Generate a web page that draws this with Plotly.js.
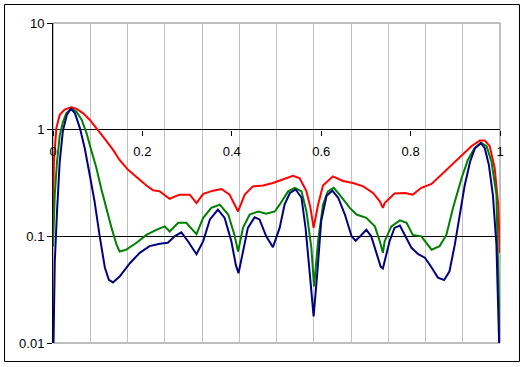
<!DOCTYPE html>
<html>
<head>
<meta charset="utf-8">
<script src="https://cdn.plot.ly/plotly-3.0.1.min.js"></script>
<style>html,body{margin:0;padding:0;background:#fff;}#chart{width:524px;height:367px;}</style>
</head>
<body>
<div id="chart"></div>
<script>
// Red series
var redX = [0, 0.002, 0.0076, 0.015, 0.026, 0.041, 0.052, 0.067, 0.082, 0.097, 0.112, 0.134, 0.149, 0.168, 0.190, 0.209, 0.224, 0.239, 0.261, 0.283, 0.306, 0.321, 0.336, 0.358, 0.377, 0.395, 0.414, 0.429, 0.447, 0.470, 0.492, 0.515, 0.537, 0.552, 0.567, 0.576, 0.583, 0.593, 0.604, 0.626, 0.649, 0.671, 0.694, 0.716, 0.731, 0.738, 0.742, 0.764, 0.787, 0.805, 0.824, 0.847, 0.869, 0.891, 0.914, 0.936, 0.955, 0.966, 0.977, 0.988, 0.996, 1.0];
var redY = [0.16, 0.50, 1.04, 1.38, 1.54, 1.62, 1.57, 1.43, 1.24, 1.04, 0.86, 0.65, 0.52, 0.42, 0.35, 0.30, 0.27, 0.264, 0.225, 0.246, 0.246, 0.205, 0.25, 0.268, 0.278, 0.246, 0.171, 0.246, 0.294, 0.30, 0.316, 0.34, 0.37, 0.35, 0.264, 0.185, 0.12, 0.198, 0.30, 0.365, 0.33, 0.316, 0.294, 0.255, 0.213, 0.185, 0.205, 0.252, 0.255, 0.246, 0.285, 0.31, 0.378, 0.47, 0.58, 0.70, 0.79, 0.79, 0.70, 0.44, 0.198, 0.07];

// Green series
var greenX = [0, 0.004, 0.009, 0.015, 0.022, 0.030, 0.041, 0.052, 0.064, 0.075, 0.086, 0.097, 0.108, 0.119, 0.131, 0.142, 0.149, 0.164, 0.187, 0.209, 0.231, 0.250, 0.261, 0.280, 0.298, 0.321, 0.336, 0.354, 0.373, 0.392, 0.406, 0.414, 0.425, 0.440, 0.459, 0.477, 0.496, 0.507, 0.526, 0.541, 0.556, 0.567, 0.578, 0.584, 0.593, 0.604, 0.615, 0.628, 0.641, 0.664, 0.679, 0.701, 0.720, 0.731, 0.738, 0.742, 0.757, 0.776, 0.791, 0.805, 0.824, 0.847, 0.865, 0.880, 0.895, 0.914, 0.928, 0.943, 0.958, 0.970, 0.981, 0.992, 1.0];
var greenY = [0.08, 0.246, 0.5, 0.88, 1.17, 1.43, 1.57, 1.48, 1.24, 0.93, 0.63, 0.44, 0.28, 0.185, 0.12, 0.084, 0.072, 0.075, 0.087, 0.103, 0.115, 0.124, 0.111, 0.134, 0.134, 0.105, 0.149, 0.185, 0.198, 0.16, 0.103, 0.072, 0.12, 0.16, 0.171, 0.163, 0.171, 0.198, 0.264, 0.285, 0.264, 0.171, 0.078, 0.034, 0.090, 0.198, 0.264, 0.285, 0.246, 0.185, 0.16, 0.149, 0.124, 0.090, 0.07, 0.090, 0.124, 0.141, 0.134, 0.103, 0.10, 0.075, 0.081, 0.103, 0.185, 0.35, 0.52, 0.67, 0.75, 0.70, 0.50, 0.246, 0.009];

// Navy series
var navyX = [0, 0.004, 0.009, 0.015, 0.022, 0.031, 0.040, 0.049, 0.060, 0.071, 0.082, 0.093, 0.104, 0.116, 0.125, 0.134, 0.149, 0.172, 0.194, 0.216, 0.239, 0.257, 0.272, 0.287, 0.302, 0.321, 0.336, 0.351, 0.369, 0.384, 0.399, 0.409, 0.415, 0.425, 0.436, 0.451, 0.462, 0.477, 0.492, 0.507, 0.518, 0.530, 0.543, 0.556, 0.565, 0.574, 0.583, 0.591, 0.600, 0.612, 0.625, 0.638, 0.653, 0.668, 0.677, 0.690, 0.701, 0.712, 0.723, 0.733, 0.738, 0.753, 0.764, 0.776, 0.787, 0.802, 0.817, 0.832, 0.847, 0.861, 0.875, 0.887, 0.899, 0.910, 0.921, 0.933, 0.944, 0.957, 0.966, 0.975, 0.984, 0.992, 0.997, 1.0];
var navyY = [0.005, 0.058, 0.171, 0.5, 0.97, 1.38, 1.57, 1.43, 1.04, 0.67, 0.38, 0.213, 0.103, 0.051, 0.039, 0.037, 0.042, 0.056, 0.070, 0.081, 0.085, 0.087, 0.10, 0.109, 0.090, 0.068, 0.090, 0.144, 0.178, 0.149, 0.090, 0.054, 0.045, 0.072, 0.12, 0.151, 0.144, 0.10, 0.079, 0.12, 0.198, 0.255, 0.275, 0.23, 0.12, 0.047, 0.0178, 0.044, 0.139, 0.24, 0.268, 0.23, 0.16, 0.10, 0.091, 0.103, 0.115, 0.10, 0.070, 0.052, 0.050, 0.090, 0.12, 0.126, 0.103, 0.078, 0.068, 0.063, 0.051, 0.041, 0.039, 0.047, 0.084, 0.16, 0.30, 0.50, 0.67, 0.75, 0.67, 0.47, 0.246, 0.084, 0.014, 0.005];

// Axis labels
var xTickVals = [0, 0.2, 0.4, 0.6, 0.8, 1];
var xTickText = ['0', '0.2', '0.4', '0.6', '0.8', '1'];
var xGridStep = 1 / 12;
var yTickVals = [0.01, 0.1, 1, 10];
var yTickText = ['0.01', '0.1', '1', '10'];

var font = {family: 'Liberation Sans, Arial, sans-serif', size: 13, color: '#000'};

var traces = [
  {x: redX, y: redY, type: 'scatter', mode: 'lines', line: {color: '#ff0000', width: 2}, hoverinfo: 'skip'},
  {x: greenX, y: greenY, type: 'scatter', mode: 'lines', line: {color: '#008000', width: 2}, hoverinfo: 'skip'},
  {x: navyX, y: navyY, type: 'scatter', mode: 'lines', line: {color: '#000080', width: 2}, hoverinfo: 'skip'}
];

var layout = {
  width: 524, height: 367,
  margin: {l: 53, r: 24, t: 23, b: 24, pad: 0},
  paper_bgcolor: '#fff', plot_bgcolor: '#fff',
  showlegend: false,
  font: font,
  xaxis: {
    range: [0, 1], anchor: 'free', position: 2/3,
    tickmode: 'array', tickvals: xTickVals, ticktext: xTickText,
    ticks: 'outside', ticklen: 5, tickcolor: '#000', tickwidth: 1,
    ticklabelstandoff: 5,
    showline: false,
    showgrid: false, zeroline: false, tickfont: font, fixedrange: true,
    minor: {tick0: 0, dtick: xGridStep, showgrid: true, gridcolor: '#c0c0c0', gridwidth: 1, ticks: ''}
  },
  yaxis: {
    type: 'log', range: [-2, 1], tickmode: 'array', tickvals: yTickVals, ticktext: yTickText,
    ticks: 'outside', ticklen: 5, tickcolor: '#000', tickwidth: 1,
    showline: true, linecolor: '#000', linewidth: 1,
    showgrid: true, gridcolor: '#000', gridwidth: 1, zeroline: false,
    tickfont: font, fixedrange: true
  },
  shapes: [
    {type: 'rect', xref: 'paper', yref: 'paper', x0: 0, x1: 1, y0: 0, y1: 1,
     line: {color: '#808080', width: 1}, layer: 'below'},
    {type: 'rect', xref: 'paper', yref: 'paper', x0: -0.1085, x1: 1.0436, y0: -0.0578, y1: 1.0578,
     line: {color: '#000', width: 1}}
  ]
};

Plotly.newPlot('chart', traces, layout, {displayModeBar: false, staticPlot: true});
</script>
</body>
</html>
